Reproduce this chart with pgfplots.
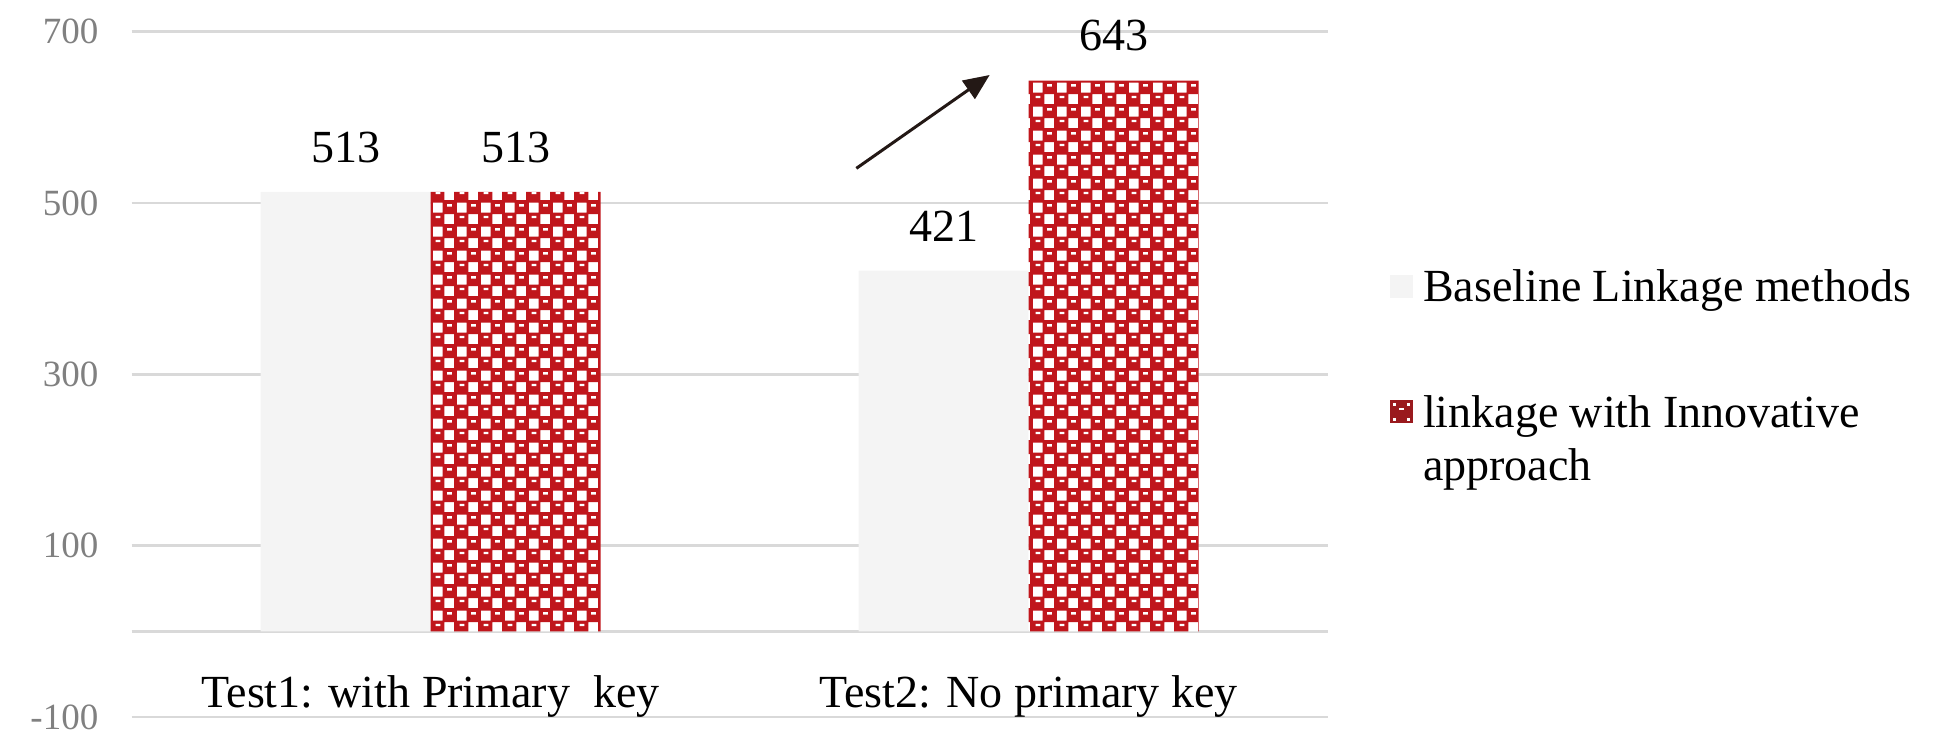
\documentclass[border=0pt]{standalone}
\usepackage{fontspec}
\setmainfont{Liberation Serif}
\usepackage{pgfplots}
\usepackage{pgfplotstable}
\pgfplotsset{compat=1.18}
\usetikzlibrary{patterns,arrows.meta}
\definecolor{gridgray}{HTML}{D9D9D9}
\definecolor{tickgray}{HTML}{808080}
\definecolor{basefill}{HTML}{F4F4F4}
\definecolor{barred}{HTML}{C0161C}
\definecolor{legred}{HTML}{9A1A1E}
\definecolor{arrowcol}{HTML}{231815}
\pgfdeclarepatterninherentlycolored{cups}{\pgfpointorigin}{\pgfqpoint{12pt}{12pt}}{\pgfqpoint{12pt}{12pt}}{%
  \pgfsetfillcolor{white}%
  \pgfpathrectangle{\pgfpointorigin}{\pgfqpoint{12pt}{12pt}}\pgfusepath{fill}%
  \pgfsetfillcolor{barred}%
  \foreach \px/\py in {0/0,12/0,0/12,12/12,6/6,-6/6,6/-6,-6/-6,18/6,6/18}{%
    \pgfpathrectangle{\pgfpoint{\px pt-0.5pt}{\py pt-0.4pt}}{\pgfqpoint{7pt}{6.8pt}}%
  }%
  \pgfusepath{fill}%
  \pgfsetfillcolor{white}%
  \foreach \px/\py in {0/0,12/0,0/12,12/12,6/6,-6/6,6/-6,-6/-6,18/6,6/18}{%
    \pgfpathrectangle{\pgfpoint{\px pt+1.9pt}{\py pt+3.6pt}}{\pgfqpoint{2.4pt}{1.2pt}}%
  }%
  \pgfusepath{fill}}
\pgfplotstableread{
x base inno
0 513 513
1 421 643
}\datatable
\begin{document}
\begin{tikzpicture}
\path[use as bounding box] (-65.85pt,-17.5pt) rectangle (901.15pt,358.5pt);
\begin{axis}[
  at={(0pt,0pt)}, anchor=south west,
  scale only axis, width=597.9pt, height=342.65pt,
  xmin=-0.5, xmax=1.5, ymin=-100, ymax=700,
  ybar=0pt, bar width=85pt,
  axis line style={draw=none},
  tick style={draw=none},
  xtick={0,1},
  xticklabels={Test1: with Primary\ \ key, Test2: No primary key},
  ytick={-100,100,300,500,700},
  yticklabels={-100,100,300,500,700},
  extra y ticks={0}, extra y tick labels={},
  extra y tick style={ymajorgrids=true, tick style={draw=none}},
  ymajorgrids,
  major grid style={gridgray, line width=1.25pt},
  yticklabel style={font=\fontsize{18.5}{22}\selectfont, text=tickgray, anchor=east, inner sep=0pt, xshift=-16.5pt},
  xticklabel style={font=\fontsize{23}{27}\selectfont, anchor=base, inner sep=0pt, yshift=9pt},
  nodes near coords,
  every node near coord/.append style={font=\fontsize{23}{27}\selectfont, inner sep=0pt, yshift=14.5pt},
  /pgf/number format/assume math mode=true,
  clip=false,
  legend cell align=left,
  legend style={draw=none, fill=none, inner sep=0pt, outer sep=0pt,
    at={(1.0523,0.6533)}, anchor=north west,
    font=\fontsize{23}{26.5}\selectfont,
    row sep=45.8pt, column sep=5pt,
    nodes={inner sep=0pt}, cells={align=left}},
]
\addplot[draw=none, fill=basefill,
  legend image code/.code={\fill[basefill] (0pt,-5.75pt) rectangle (11.5pt,5.75pt);}]
  table[x=x,y=base]{\datatable};
\addlegendentry{Baseline Linkage methods}
\addplot[draw=none, pattern=cups,
  legend image code/.code={\fill[legred] (0pt,8.25pt) rectangle (11.5pt,19.75pt);
     \fill[white] (1.5pt,9.5pt) rectangle (3pt,11pt);
     \fill[white] (8.5pt,9.5pt) rectangle (10pt,11pt);
     \fill[white] (4.5pt,15pt) rectangle (7pt,16pt);
     \fill[white] (1.5pt,17pt) rectangle (3pt,18.5pt);
     \fill[white] (8.5pt,17pt) rectangle (10pt,18.5pt);}]
  table[x=x,y=inno]{\datatable};
\addlegendentry{linkage with Innovative\\approach}
\draw[-{Triangle[length=13pt,width=11pt]}, line width=1.5pt, arrowcol]
  (axis cs:0.712,540.5) -- (axis cs:0.935,649.5);
\end{axis}
\end{tikzpicture}
\end{document}
